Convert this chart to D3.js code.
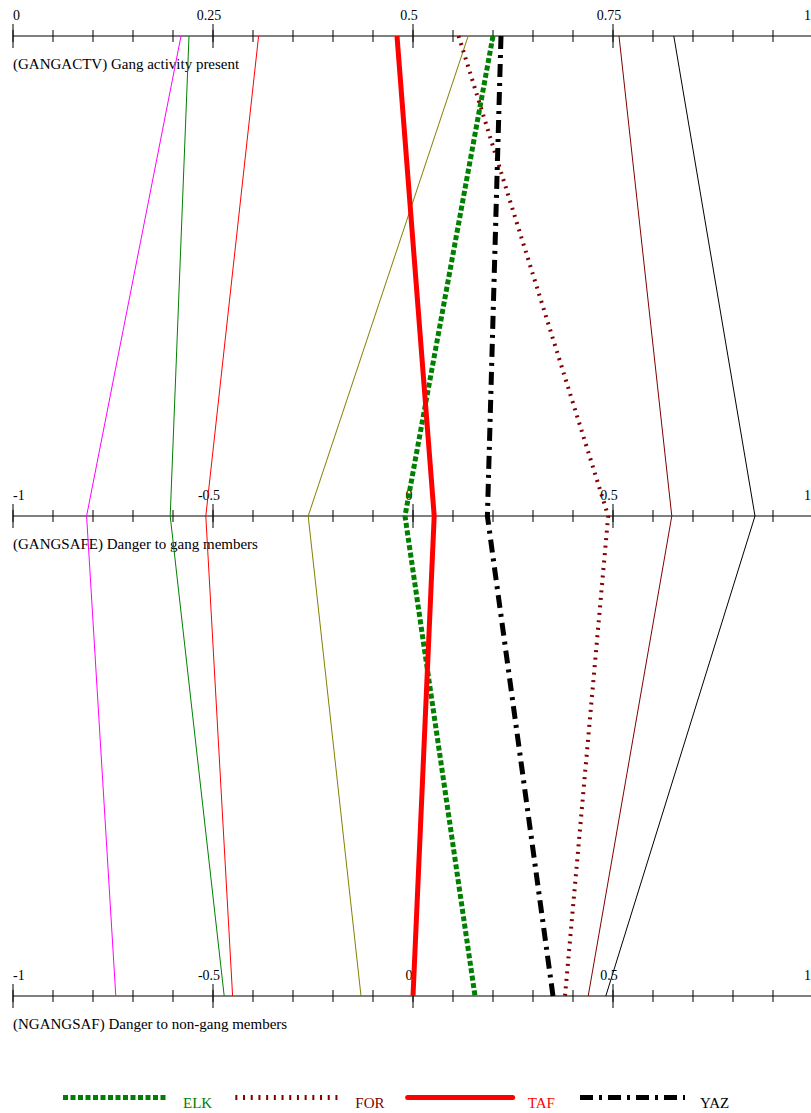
<!DOCTYPE html>
<html>
<head>
<meta charset="utf-8">
<script src="https://cdn.jsdelivr.net/npm/d3@7"></script>
<style>
  html, body { margin: 0; padding: 0; background: #fff; }
  svg { display: block; }
  text { font-family: "Liberation Serif", "Times New Roman", serif; }
</style>
</head>
<body>
<script>
// Parallel axes: one horizontal axis per variable, stacked top to bottom.
const axisKeys = ["GANGACTV", "GANGSAFE", "NGANGSAF"];
const axisTitles = [
  "(GANGACTV) Gang activity present",
  "(GANGSAFE) Danger to gang members",
  "(NGANGSAF) Danger to non-gang members"
];
const axisDomains = [[0, 1], [-1, 1], [-1, 1]];
const axisMajorTicks = [[0, 0.25, 0.5, 0.75, 1], [-1, -0.5, 0, 0.5, 1], [-1, -0.5, 0, 0.5, 1]];
const axisTickLabels = [
  ["0", "0.25", "0.5", "0.75", "1"],
  ["-1", "-0.5", "0", "0.5", "1"],
  ["-1", "-0.5", "0", "0.5", "1"]
];
const axisMinorStep = [0.05, 0.1, 0.1];

// Highlighted groups (shown in the legend)
const seriesNames = ["ELK", "FOR", "TAF", "YAZ"];
const elkValues = [0.60, -0.02, 0.155];
const forValues = [0.557, 0.488, 0.38];
const tafValues = [0.48, 0.053, 0.0];
const yazValues = [0.61, 0.186, 0.35];

// Remaining groups, drawn as thin lines
const backgroundColors = ["#ff00ff", "#008000", "#ff0000", "#808000", "#800000", "#000000"];
const backgroundValues = [
  [0.21, -0.816, -0.743],
  [0.22, -0.607, -0.472],
  [0.307, -0.518, -0.451],
  [0.569, -0.262, -0.13],
  [0.7575, 0.647, 0.438],
  [0.826, 0.855, 0.482]
];

const W = 811, H = 1113;
const svg = d3.select("body").append("svg")
  .attr("width", W).attr("height", H)
  .style("background", "#fff");

const y = d3.scalePoint().domain(axisKeys).range([36, 996]);
const xScales = axisDomains.map(d => d3.scaleLinear().domain(d).range([13, 813]));

// Axes
axisKeys.forEach((key, i) => {
  const x = xScales[i];
  const g = svg.append("g").attr("transform", `translate(0,${y(key)})`);
  g.append("line").attr("x1", 13).attr("x2", W)
    .attr("stroke", "#000").attr("stroke-width", 1);

  const [lo, hi] = axisDomains[i];
  const n = Math.round((hi - lo) / axisMinorStep[i]);
  const minor = d3.range(n + 1).map(k => lo + k * axisMinorStep[i]);
  g.selectAll("line.minor").data(minor).join("line")
    .attr("class", "minor")
    .attr("x1", d => x(d)).attr("x2", d => x(d))
    .attr("y1", -6).attr("y2", 6)
    .attr("stroke", "#000").attr("stroke-width", 1);
  g.selectAll("line.major").data(axisMajorTicks[i]).join("line")
    .attr("class", "major")
    .attr("x1", d => x(d)).attr("x2", d => x(d))
    .attr("y1", -12).attr("y2", 12)
    .attr("stroke", "#000").attr("stroke-width", 1);

  const last = axisMajorTicks[i].length - 1;
  g.selectAll("text.tick").data(axisMajorTicks[i]).join("text")
    .attr("class", "tick")
    .attr("x", (d, j) => j === 0 ? x(d) : j === last ? W : x(d) - 4)
    .attr("y", -16)
    .attr("text-anchor", (d, j) => j === 0 ? "start" : j === last ? "end" : "middle")
    .attr("font-size", 14)
    .attr("fill", "#000")
    .text((d, j) => axisTickLabels[i][j]);

  g.append("text")
    .attr("x", 13).attr("y", 33)
    .attr("font-size", 15)
    .attr("fill", "#000")
    .text(axisTitles[i]);
});

const lineGen = d3.line()
  .x((v, i) => xScales[i](v))
  .y((v, i) => y(axisKeys[i]));

// Thin lines
svg.append("g").selectAll("path").data(backgroundValues).join("path")
  .attr("d", d => lineGen(d))
  .attr("fill", "none")
  .attr("stroke", (d, i) => backgroundColors[i])
  .attr("stroke-width", 1);

// Highlighted lines
const highlighted = [
  { name: seriesNames[0], values: elkValues, color: "#008000", width: 5, dash: "5,2.5" },
  { name: seriesNames[1], values: forValues, color: "#800000", width: 4, dash: "2,5.5" },
  { name: seriesNames[2], values: tafValues, color: "#ff0000", width: 5, dash: null },
  { name: seriesNames[3], values: yazValues, color: "#000000", width: 5, dash: "13,6,3,6" }
];

svg.append("g").selectAll("path").data(highlighted).join("path")
  .attr("d", d => lineGen(d.values))
  .attr("fill", "none")
  .attr("stroke", d => d.color)
  .attr("stroke-width", d => d.width)
  .attr("stroke-dasharray", d => d.dash);

// Legend
const legendX = d3.scalePoint().domain(seriesNames).range([63, 580]);
const legend = svg.append("g").selectAll("g").data(highlighted).join("g")
  .attr("transform", d => `translate(${legendX(d.name)},1097.5)`);
legend.append("line")
  .attr("x1", 0).attr("x2", 105)
  .attr("stroke", d => d.color)
  .attr("stroke-width", d => d.name === "FOR" ? 5 : 5)
  .attr("stroke-linecap", d => d.dash ? "butt" : "round")
  .attr("stroke-dasharray", d => d.name === "FOR" ? "2,5.7" : d.dash);
legend.append("text")
  .attr("x", 120).attr("y", 10)
  .attr("font-size", 15)
  .attr("fill", d => d.color)
  .text(d => d.name);
</script>
</body>
</html>
